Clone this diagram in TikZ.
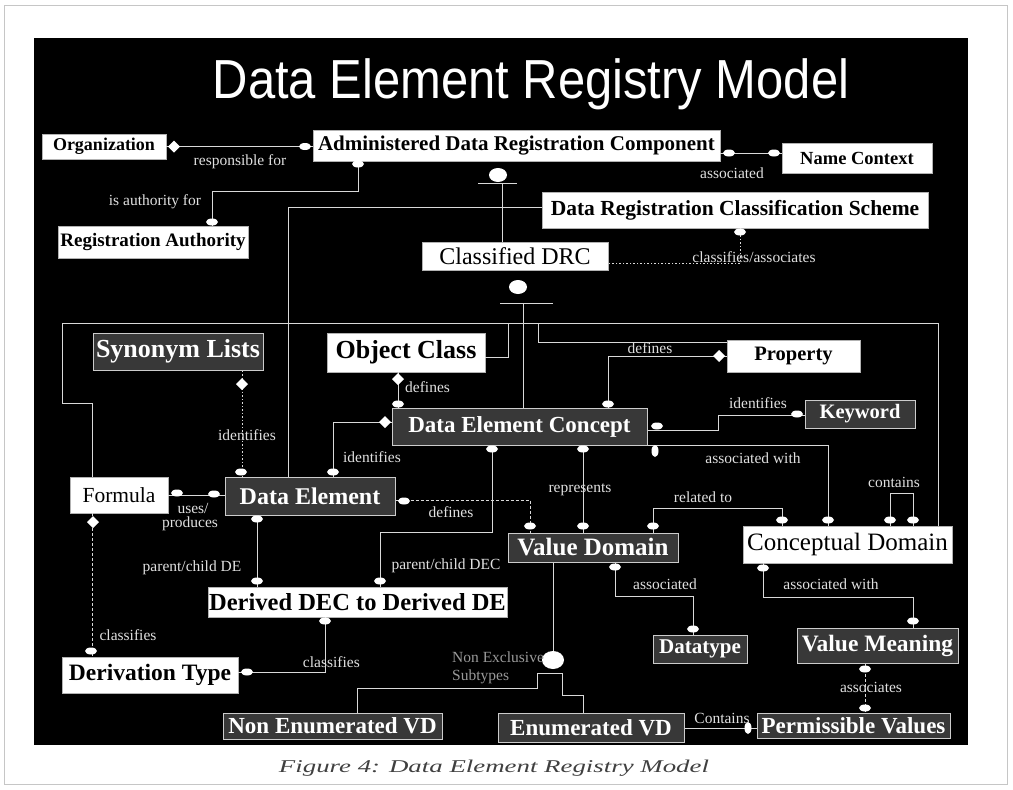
\documentclass[tikz,border=0pt]{standalone}
\usepackage{fontspec}
\setmainfont{Liberation Serif}
\newfontfamily\titlefont{Liberation Sans}
\usetikzlibrary{shapes.geometric}
\newcommand{\fsz}[1]{\fontsize{#1}{#1}\selectfont}
\newcommand{\emk}[1]{\fill[mk] #1 ellipse [x radius=6pt, y radius=3.5pt];}
\newcommand{\vmk}[1]{\fill[mk] #1 ellipse [x radius=3.5pt, y radius=6pt];}
\newcommand{\dmk}[1]{\fill[mk] #1 +(0,-6) -- +(6,0) -- +(0,6) -- +(-6,0) -- cycle;}
\tikzset{
 ln/.style={draw=white!85!black, line width=1pt},
 dashln/.style={ln, dash pattern=on 3pt off 2pt},
 dotln/.style={ln, dash pattern=on 1.5pt off 2pt},
 mk/.style={fill=white},
 wbox/.style={draw=gray!60, fill=white, text=black, inner sep=0pt},
 dbox/.style={draw=white!80!black, line width=1pt, fill=black!78, text=white, inner sep=0pt},
 lbl/.style={text=white!88!black, inner sep=0pt, font=\fsz{15.5}},
}
\begin{document}
\begin{tikzpicture}[x=1pt,y=-1pt]
\useasboundingbox (0,0) rectangle (1013,790);
\draw[gray!45, line width=0.8pt] (4,5) rectangle (1007,784);
\fill[black] (34,38) rectangle (968,745);
\node[text=white, font=\titlefont\fsz{55}, anchor=base] (title) at (531,98) {\scalebox{0.89}[1]{Data Element Registry Model}};
\node[text=black!75, font=\fsz{18}\itshape, anchor=base] (cap) at (494,772) {\resizebox{430pt}{\height}{Figure 4: Data Element Registry Model}};

% boxes
\node[wbox, minimum width=124pt, minimum height=25pt, font=\fsz{18}\bfseries] (org) at (104,146.5) {Organization};
\node[wbox, minimum width=407pt, minimum height=31pt, font=\fsz{21}\bfseries] (adrc) at (516.5,145.5) {Administered Data Registration Component};
\node[wbox, minimum width=150pt, minimum height=30pt, font=\fsz{18.5}\bfseries] (name) at (857,158) {Name Context};
\node[wbox, minimum width=190pt, minimum height=32pt, font=\fsz{19}\bfseries] (ra) at (153,242) {Registration Authority};
\node[wbox, minimum width=386pt, minimum height=36pt, font=\fsz{21.5}\bfseries] (drcs) at (735,210) {Data Registration Classification Scheme};
\node[wbox, minimum width=186pt, minimum height=28pt, font=\fsz{24}] (cdrc) at (515,256) {Classified DRC};
\node[dbox, minimum width=170pt, minimum height=37pt, font=\fsz{26}\bfseries] (syn) at (178,351.5) {Synonym Lists};
\node[wbox, minimum width=158pt, minimum height=39pt, font=\fsz{26}\bfseries] (oc) at (406,352.5) {Object Class};
\node[wbox, minimum width=133pt, minimum height=32pt, font=\fsz{20.5}\bfseries] (prop) at (793.5,356) {Property};
\node[dbox, minimum width=255pt, minimum height=37pt, font=\fsz{23}\bfseries] (dec) at (519.5,426.5) {Data Element Concept};
\node[dbox, minimum width=110pt, minimum height=28pt, font=\fsz{20.5}\bfseries] (kw) at (860,414) {Keyword};
\node[wbox, minimum width=98pt, minimum height=36pt, font=\fsz{21.5}] (formula) at (119,495) {Formula};
\node[dbox, minimum width=170pt, minimum height=38pt, font=\fsz{24}\bfseries] (de) at (310,496) {Data Element};
\node[dbox, minimum width=170pt, minimum height=29pt, font=\fsz{25}\bfseries] (vd) at (593,547.5) {Value Domain};
\node[wbox, minimum width=209pt, minimum height=37pt, font=\fsz{25}] (cd) at (847.5,544.5) {Conceptual Domain};
\node[wbox, minimum width=299pt, minimum height=30pt, font=\fsz{24.5}\bfseries] (ddd) at (357.5,602) {Derived DEC to Derived DE};
\node[wbox, minimum width=176pt, minimum height=36pt, font=\fsz{23.5}\bfseries] (dt) at (150,675) {Derivation Type};
\node[dbox, minimum width=94pt, minimum height=28pt, font=\fsz{21}\bfseries] (dtype) at (700,649) {Datatype};
\node[dbox, minimum width=161pt, minimum height=35pt, font=\fsz{23.5}\bfseries] (vm) at (877.5,645.5) {Value Meaning};
\node[dbox, minimum width=219pt, minimum height=26pt, font=\fsz{23}\bfseries] (nevd) at (332.5,726) {Non Enumerated VD};
\node[dbox, minimum width=186pt, minimum height=29pt, font=\fsz{23}\bfseries] (evd) at (591,727.5) {Enumerated VD};
\node[dbox, minimum width=193pt, minimum height=25pt, font=\fsz{23}\bfseries] (pv) at (853.5,725.5) {Permissible Values};

% a: responsible for
\draw[ln] (org.east) -- (org.east -| adrc.west);
\dmk{(174,146.5)} \emk{(305,146.5)}
\node[lbl] (la) at (240,162) {responsible for};
% b: is authority for
\draw[ln] (358,0 |- adrc.south) -- (358,191) -| (212,0 |- ra.north);
\emk{(358,164)} \emk{(212,222)}
\node[lbl] (lb) at (155,202) {is authority for};
% c: associated (name context)
\draw[ln] (adrc.east |- 0,153) -- (name.west |- 0,153);
\emk{(729,153)} \emk{(774,153)}
\node[lbl] (lc) at (732,173) {associated};
% d: ADRC subtypes
\fill[mk] (498,175) ellipse [x radius=9pt, y radius=7pt];
\draw[ln] (478,183) -- (517,183);
\draw[ln] (502,183) -- (502,0 |- cdrc.north);
\draw[ln] (288,0 |- de.north) -- (288,207) -- (drcs.west |- 0,207);
% e: classifies/associates
\draw[dotln] (740,0 |- drcs.south) -- (740,263) -- (cdrc.east |- 0,263);
\emk{(740,232)}
\node[lbl] (le) at (754,257) {classifies/associates};
% f: Classified DRC subtypes
\fill[mk] (518,287) ellipse [x radius=9pt, y radius=7pt];
\draw[ln] (500,303) -- (553,303);
\draw[ln] (523,303) -- (523,0 |- dec.north);
\draw[ln] (92,0 |- formula.north) -- (92,403) -- (62,403) -- (62,323) -- (938,323) -- (938,0 |- cd.north);
\draw[ln] (oc.east |- 0,357) -- (508,357) -- (508,323);
\draw[ln] (538,323) -- (538,342) -- (prop.west |- 0,342);
% g: defines (object class)
\draw[ln] (398,0 |- oc.south) -- (398,0 |- dec.north);
\dmk{(398,379)} \emk{(398,404)}
\node[lbl, anchor=west] (lg) at (405,387) {defines};
% h: defines (property)
\draw[ln] (prop.west) -- (608,0 |- prop.west) -- (608,0 |- dec.north);
\dmk{(719,356)} \emk{(608,404)}
\node[lbl] (lh) at (650,348) {defines};
% i: identifies (keyword)
\draw[ln] (dec.east |- 0,430) -- (718,430) -- (718,415) -- (kw.west |- 0,415);
\emk{(657,426)} \emk{(797,414)}
\node[lbl] (li) at (758,403) {identifies};
% j: associated with (DEC - CD)
\draw[ln] (dec.south east) -- (828,0 |- dec.south) -- (828,0 |- cd.north);
\vmk{(655,451)} \emk{(828,520)}
\node[lbl] (lj) at (753,458) {associated with};
% k: represents
\draw[ln] (583,0 |- dec.south) -- (583,0 |- vd.north);
\emk{(583,449)} \emk{(583,526)}
\node[lbl] (lk) at (580,490) {represents};
% l: parent/child DEC
\draw[ln] (492,0 |- dec.south) -- (492,532) -- (380,532) -- (380,0 |- ddd.north);
\emk{(492,449)} \emk{(380,581)}
\node[lbl] (ll) at (446,566) {parent/child DEC};
% m: defines (DE - VD)
\draw[dashln] (de.east |- 0,500) -- (530,500) -- (530,0 |- vd.north);
\emk{(404,501)} \emk{(530,526)}
\node[lbl] (lm) at (451,512) {defines};
% n: identifies (DEC - DE)
\draw[ln] (dec.west |- 0,422) -- (333,422) -- (333,0 |- de.north);
\dmk{(385,422)} \emk{(333,472)}
\node[lbl] (ln1) at (372,457) {identifies};
% o: identifies (synonym)
\draw[dotln] (242,0 |- syn.south) -- (242,0 |- de.north);
\dmk{(242,384)} \emk{(241,472)}
\node[lbl] (lo) at (247,435) {identifies};
% p: uses/produces
\draw[ln] (formula.east) -- (formula.east -| de.west);
\emk{(177,493)} \emk{(214,494)}
\node[lbl] (lp1) at (193,508) {uses/};
\node[lbl] (lp2) at (190,524) {produces};
% q: parent/child DE
\draw[ln] (257,0 |- de.south) -- (257,0 |- ddd.north);
\emk{(257,519)} \emk{(257,581)}
\node[lbl] (lq) at (192,568) {parent/child DE};
% r: classifies (formula - derivation type)
\draw[dashln] (92,0 |- formula.south) -- (92,0 |- dt.north);
\dmk{(93,522)} \emk{(91,651)}
\node[lbl] (lr) at (128,635) {classifies};
% s: classifies (derivation type - derived)
\draw[ln] (dt.east |- 0,672) -- (325,672) -- (325,0 |- ddd.south);
\emk{(247,672)} \emk{(325,621)}
\node[lbl, anchor=east] (ls) at (360,662) {classifies};
% t: related to
\draw[ln] (653,0 |- vd.north) -- (653,508) -- (782,508) -- (782,0 |- cd.north);
\emk{(653,526)} \emk{(782,520)}
\node[lbl] (lt) at (703,497) {related to};
% u: contains
\draw[ln] (890,0 |- cd.north) -- (890,493) -- (913,493) -- (913,0 |- cd.north);
\emk{(890,520)} \emk{(913,520)}
\node[lbl] (lu) at (894,482) {contains};
% v: associated (VD - datatype)
\draw[ln] (615,0 |- vd.south) -- (615,596) -- (693,596) -- (693,0 |- dtype.north);
\emk{(615,567)} \emk{(693,629)}
\node[lbl] (lv) at (665,584) {associated};
% w: associated with (CD - VM)
\draw[ln] (763,0 |- cd.south) -- (763,597) -- (913,597) -- (913,0 |- vm.north);
\emk{(763,568)} \emk{(913,621)}
\node[lbl] (lw) at (831,584) {associated with};
% x: associates
\draw[dashln] (865,0 |- vm.south) -- (865,0 |- pv.north);
\emk{(865,669)} \emk{(865,708)}
\node[lbl] (lx) at (871,687) {associates};
% y: Contains
\draw[ln] (evd.east |- 0,728) -- (pv.west |- 0,728);
\vmk{(748,728)}
\node[lbl] (ly) at (722,718) {Contains};
% z: VD subtypes
\draw[ln] (553,0 |- vd.south) -- (553,652);
\fill[mk] (553,660) ellipse [x radius=11pt, y radius=9pt];
\draw[ln] (357,0 |- nevd.north) -- (357,688) -- (537,688) -- (537,673) -- (562,673) -- (562,695) -- (583,695) -- (583,0 |- evd.north);
\node[lbl, text=gray!80, anchor=west] (lz1) at (452,657) {Non Exclusive};
\node[lbl, text=gray!80, anchor=west] (lz2) at (452,677) {Subtypes};
\end{tikzpicture}
\end{document}
